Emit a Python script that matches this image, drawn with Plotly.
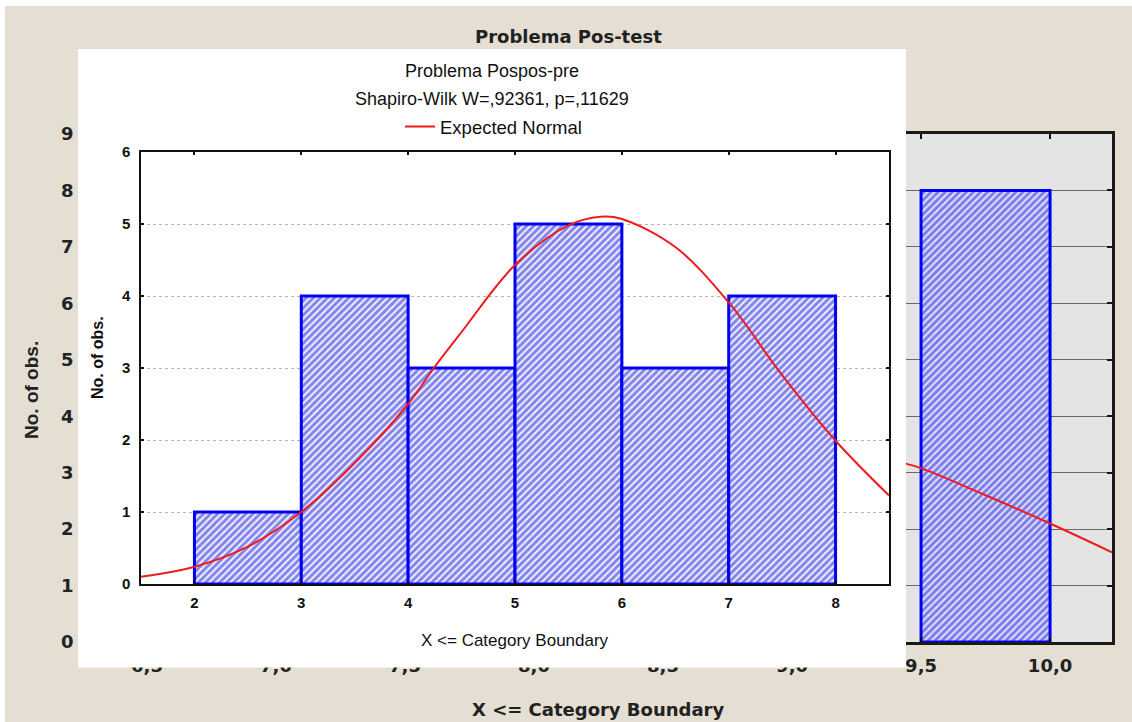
import plotly.graph_objects as go

W, H = 1132, 722

# ---------------- data ----------------
# background chart "Problema Pos-test" (only the visible part can be read)
bg_bin_lower = [9.5]
bg_bin_upper = [10.0]
bg_counts = [8]
bg_curve_x = [9.44, 9.5, 9.75, 10.0, 10.24]
bg_curve_y = [3.16, 3.08, 2.60, 2.10, 1.59]
bg_x_tickvals = [6.5, 7.0, 7.5, 8.0, 8.5, 9.0, 9.5, 10.0]
bg_x_ticktext = ["6,5", "7,0", "7,5", "8,0", "8,5", "9,0", "9,5", "10,0"]
bg_y_tickvals = [0, 1, 2, 3, 4, 5, 6, 7, 8, 9]

# foreground chart "Problema Pospos-pre"
fg_bin_lower = [2, 3, 4, 5, 6, 7]
fg_bin_upper = [3, 4, 5, 6, 7, 8]
fg_counts = [1, 4, 3, 5, 3, 4]
fg_curve_x = [1.5, 2.0, 2.5, 3.0, 3.5, 4.0, 4.24, 4.5, 5.0, 5.5, 5.8, 6.0, 6.5, 7.0, 7.5, 8.0, 8.5]
fg_curve_y = [0.10, 0.24, 0.52, 1.0, 1.68, 2.5, 3.0, 3.5, 4.43, 4.98, 5.10, 5.07, 4.68, 3.91, 2.90, 1.99, 1.23]
fg_x_tickvals = [2, 3, 4, 5, 6, 7, 8]
fg_x_ticktext = ["2", "3", "4", "5", "6", "7", "8"]
fg_y_tickvals = [0, 1, 2, 3, 4, 5, 6]

# ---------------- helpers ----------------
def fx(px):
    return px / W

def fy(py):
    return 1 - py / H

BEIGE = "#e4ded3"
BG_PLOT = "#e4e4e4"
BLUE = "#0000f0"
HATCH = "#1616dc"
RED = "#ee1c1c"
BG_FONT = "DejaVu Sans"
FG_FONT = "Liberation Sans, Arial"

fig = go.Figure()

# background histogram (subplot x/y)
fig.add_trace(go.Bar(
    x=[(a + b) / 2 for a, b in zip(bg_bin_lower, bg_bin_upper)],
    y=bg_counts,
    width=[b - a for a, b in zip(bg_bin_lower, bg_bin_upper)],
    xaxis="x", yaxis="y",
    marker=dict(color="#e2e4fa", line=dict(color=BLUE, width=3),
                pattern=dict(shape="/", fgcolor=HATCH, bgcolor="#e2e4fa",
                             size=5, solidity=0.6)),
    showlegend=False, hoverinfo="skip",
))
fig.add_trace(go.Scatter(
    x=bg_curve_x, y=bg_curve_y, mode="lines", line=dict(color=RED, width=2, shape="spline"),
    xaxis="x", yaxis="y", showlegend=False, hoverinfo="skip",
))

# empty placeholder so that the white "paper" of the pasted chart (subplot x2/y2) exists
fig.add_trace(go.Scatter(x=[None], y=[None], mode="lines", xaxis="x2", yaxis="y2",
                         showlegend=False, hoverinfo="skip"))

# foreground histogram (subplot x3/y3)
fig.add_trace(go.Bar(
    x=[(a + b) / 2 for a, b in zip(fg_bin_lower, fg_bin_upper)],
    y=fg_counts,
    width=[b - a for a, b in zip(fg_bin_lower, fg_bin_upper)],
    xaxis="x3", yaxis="y3",
    marker=dict(color="#ffffff", line=dict(color=BLUE, width=3),
                pattern=dict(shape="/", fgcolor=HATCH, bgcolor="#f2f3ff",
                             size=5, solidity=0.6)),
    showlegend=False, hoverinfo="skip",
))
fig.add_trace(go.Scatter(
    x=fg_curve_x, y=fg_curve_y, mode="lines", name="Expected Normal",
    line=dict(color=RED, width=2, shape="spline"),
    xaxis="x3", yaxis="y3", showlegend=True, hoverinfo="skip",
))

bg_x0, bg_x1, bg_y0, bg_y1 = 84, 1112, 642, 134
fg_x0, fg_x1, fg_y0, fg_y1 = 141, 889, 584, 152

hidden_axis = dict(showline=False, showgrid=False, zeroline=False, showticklabels=False,
                   ticks="", range=[0, 1], fixedrange=True)

fig.update_layout(
    width=W, height=H,
    margin=dict(l=0, r=0, t=0, b=0, autoexpand=False),
    paper_bgcolor=BEIGE,
    plot_bgcolor="white",
    barmode="overlay",
    showlegend=True,
    legend=dict(x=fx(400), y=fy(127), xanchor="left", yanchor="middle",
                orientation="h", bgcolor="rgba(0,0,0,0)",
                font=dict(family=FG_FONT, size=18.5, color="#111")),
    xaxis=dict(domain=[fx(bg_x0), fx(bg_x1)], range=[6.256, 10.240], anchor="y",
               tickvals=bg_x_tickvals, ticktext=bg_x_ticktext,
               ticks="inside", ticklen=5, tickwidth=2, tickcolor="#111",
               showline=True, linewidth=2.5, linecolor="#1a1a1a", mirror="ticks",
               showgrid=False, zeroline=False, ticklabelstandoff=6,
               tickfont=dict(family=BG_FONT, size=18, color="#222", weight="bold")),
    yaxis=dict(domain=[fy(bg_y0), fy(bg_y1)], range=[0, 9], anchor="x",
               tickvals=bg_y_tickvals,
               ticks="inside", ticklen=5, tickwidth=2, tickcolor="#111",
               showline=True, linewidth=2.5, linecolor="#1a1a1a", mirror="ticks",
               showgrid=True, gridcolor="#6a6a6a", gridwidth=1, zeroline=False,
               ticklabelstandoff=4,
               tickfont=dict(family=BG_FONT, size=18, color="#222", weight="bold")),
    xaxis2=dict(domain=[fx(78), fx(906)], anchor="y2", **hidden_axis),
    yaxis2=dict(domain=[fy(667.5), fy(49)], anchor="x2", **hidden_axis),
    xaxis3=dict(domain=[fx(fg_x0), fx(fg_x1)], range=[1.5, 8.5], anchor="y3",
                tickvals=fg_x_tickvals, ticktext=fg_x_ticktext,
                ticks="inside", ticklen=3, tickwidth=2, tickcolor="#111",
                showline=True, linewidth=1.5, linecolor="#111", mirror="ticks",
                showgrid=False, zeroline=False, ticklabelstandoff=4,
                tickfont=dict(family=FG_FONT, size=15, color="#111", weight="bold")),
    yaxis3=dict(domain=[fy(fg_y0), fy(fg_y1)], range=[0, 6], anchor="x3",
                tickvals=fg_y_tickvals,
                ticks="inside", ticklen=3, tickwidth=2, tickcolor="#111",
                showline=True, linewidth=1.5, linecolor="#111", mirror="ticks",
                showgrid=True, gridcolor="#b4b4b4", griddash="dot", gridwidth=1,
                zeroline=False, ticklabelstandoff=6,
                tickfont=dict(family=FG_FONT, size=15, color="#111", weight="bold")),
    shapes=[
        # thin white strips at the top and left edge of the screenshot
        dict(type="rect", xref="paper", yref="paper", layer="below",
             x0=0, x1=1, y0=fy(6), y1=1, fillcolor="white", line=dict(width=0)),
        dict(type="rect", xref="paper", yref="paper", layer="below",
             x0=0, x1=fx(5), y0=0, y1=1, fillcolor="white", line=dict(width=0)),
        # grey plot area of the background chart
        dict(type="rect", xref="paper", yref="paper", layer="below",
             x0=fx(bg_x0), x1=fx(bg_x1), y0=fy(bg_y0), y1=fy(bg_y1),
             fillcolor=BG_PLOT, line=dict(width=0)),
    ],
    annotations=[
        dict(text="Problema Pos-test", x=fx(568), y=fy(37),
             font=dict(family=BG_FONT, size=18, color="#222", weight="bold")),
        dict(text="X <= Category Boundary", x=fx(598), y=fy(709),
             font=dict(family=BG_FONT, size=18, color="#222", weight="bold")),
        dict(text="No. of obs.", x=fx(32), y=fy(390), textangle=-90,
             font=dict(family=FG_FONT, size=19, color="#222", weight="bold")),
        dict(text="Problema Pospos-pre", x=fx(492), y=fy(71),
             font=dict(family=FG_FONT, size=18, color="#111")),
        dict(text="Shapiro-Wilk W=,92361, p=,11629", x=fx(492), y=fy(99),
             font=dict(family=FG_FONT, size=18, color="#111")),
        dict(text="X <= Category Boundary", x=fx(515), y=fy(640),
             font=dict(family=FG_FONT, size=17, color="#111")),
        dict(text="No. of obs.", x=fx(98), y=fy(358), textangle=-90,
             font=dict(family=FG_FONT, size=16, color="#111", weight="bold")),
    ],
)
fig.update_annotations(xref="paper", yref="paper", showarrow=False,
                       xanchor="center", yanchor="middle")

fig.write_html("out.html")
